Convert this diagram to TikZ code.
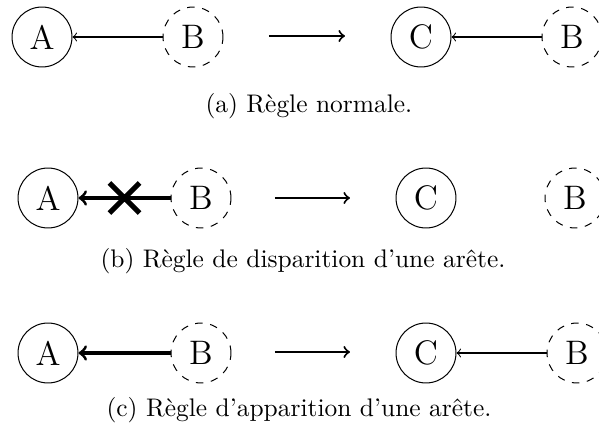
\documentclass[tikz,border=0pt]{standalone}
\usepackage{fontspec}
\usetikzlibrary{shapes.misc}

\begin{document}
\begin{tikzpicture}[x=0.397pt, y=-0.397pt,
  every node/.style={font=\fontsize{13.5}{16}\selectfont},
  sommet/.style={circle, draw, minimum size=23.8pt, inner sep=0pt},
  fantome/.style={sommet, dashed},
  legende/.style={anchor=base west, font=\fontsize{10.1}{12}\selectfont, inner sep=0pt}]
\useasboundingbox (0,0) rectangle (599,435);
% (a) normal rule
\node[sommet]  (a1) at (42,37)  {A};
\node[fantome] (b1) at (193,37) {B};
\node[sommet]  (c1) at (421,37) {C};
\node[fantome] (d1) at (572,37) {B};
\draw[->] (b1) -- (a1);
\draw[->] (d1) -- (c1);
\coordinate (s1) at (269,36);
\coordinate (t1) at (345,36);
\draw[->, thick] (s1) -- (t1);
\node[legende] (la) at (205,113) {(a) Règle normale.};
% (b) vanishing edge
\node[sommet]  (a2) at (48,198)  {A};
\node[fantome] (b2) at (201,198) {B};
\node[sommet]  (c2) at (426,198) {C};
\node[fantome] (d2) at (575,198) {B};
\draw[->, very thick] (b2) -- node[cross out, draw, line width=2pt, minimum size=10pt, inner sep=0pt] (x2) {} (a2);
\coordinate (s2) at (275,198);
\coordinate (t2) at (350,198);
\draw[->, thick] (s2) -- (t2);
\node[legende] (lb) at (100,268) {(b) Règle de disparition d’une arête.};
% (c) appearing edge
\node[sommet]  (a3) at (48,353)  {A};
\node[fantome] (b3) at (201,353) {B};
\node[sommet]  (c3) at (426,353) {C};
\node[fantome] (d3) at (577,353) {B};
\draw[->, very thick] (b3) -- (a3);
\draw[->] (d3) -- (c3);
\coordinate (s3) at (275,352);
\coordinate (t3) at (350,352);
\draw[->, thick] (s3) -- (t3);
\node[legende] (lc) at (106,417) {(c) Règle d’apparition d’une arête.};
\end{tikzpicture}
\end{document}
